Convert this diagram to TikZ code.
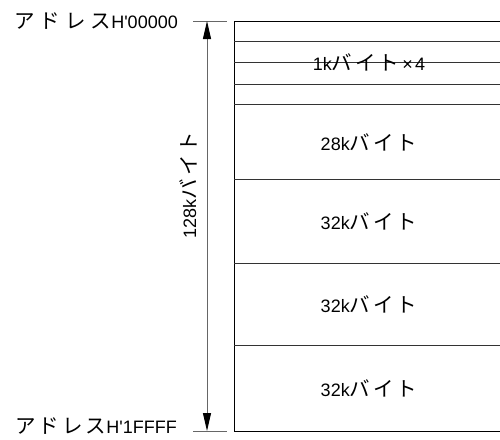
\documentclass[tikz,border=0pt]{standalone}
\usepackage{fontspec}
\setmainfont{Liberation Sans}
\newfontfamily\lat{Liberation Sans}
\newfontfamily\jp{Noto Sans CJK JP}
\usetikzlibrary{arrows.meta}
\newcommand\ks{\kern3pt}
\newcommand\kw{\kern5pt}
\newcommand\kana[1]{{\fontsize{20.5}{23}\jp #1}}

\begin{document}
\begin{tikzpicture}[x=1pt, y=-1pt,
  lbl/.style={font=\fontsize{18}{21}\lat, inner sep=0pt},
  cellline/.style={draw=black!80, line width=1pt},
  dim/.style={draw=black!60, line width=1pt},
  tip/.style={Triangle[length=18pt, width=8pt, color=black]},
]
  \useasboundingbox (0,0) rectangle (500,439);

  % memory map
  \draw[line width=1pt] (234,21) rectangle (503,431);
  \foreach \y in {41,62,84,104,179,263,345}
    \draw[cellline] (234,\y) -- (503,\y);

  \node[lbl] (blk1k) at (369,62) {1k\kana{バ\ks イ\ks ト}\kern3pt ×\kern2pt 4};
  \node[lbl] (blk28k) at (369,142) {28k\kana{バ\ks イ\ks ト}};
  \node[lbl] (blk32a) at (369,221) {32k\kana{バ\ks イ\ks ト}};
  \node[lbl] (blk32b) at (369,304) {32k\kana{バ\ks イ\ks ト}};
  \node[lbl] (blk32c) at (369,388) {32k\kana{バ\ks イ\ks ト}};

  % address labels and ticks
  \node[lbl, anchor=east] (adtop) at (178,21) {\kana{ア\kw ド\kw レ\kw ス}H'00000};
  \node[lbl, anchor=east] (adbot) at (177,426) {\kana{ア\ks ド\ks レ\ks ス}H'1FFFF};
  \coordinate (ttl) at (193,21);
  \coordinate (ttr) at (227,21);
  \coordinate (tbl) at (193,431);
  \coordinate (tbr) at (227,431);
  \draw[dim] (ttl) -- (ttr);
  \draw[dim] (tbl) -- (tbr);

  % size arrow
  \coordinate (atop) at (207,21);
  \coordinate (abot) at (207,431);
  \draw[dim, {Triangle[length=18pt, width=8pt, color=black]}-{Triangle[length=18pt, width=8pt, color=black]}] (atop) -- (abot);
  \node[lbl, rotate=90] (size) at (188,185) {128k\kana{バ\ks イ\ks ト}};
\end{tikzpicture}
\end{document}
